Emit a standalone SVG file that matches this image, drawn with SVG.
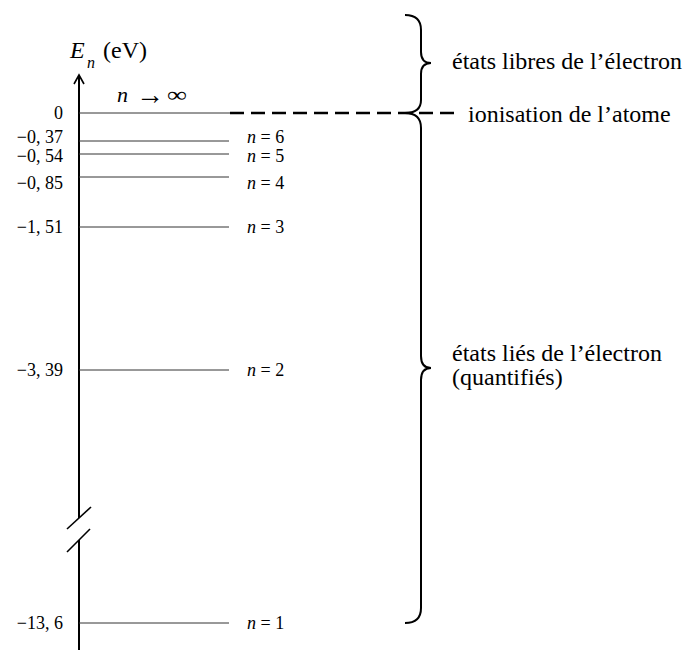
<svg xmlns="http://www.w3.org/2000/svg" width="683" height="650" viewBox="0 0 683 650" font-family="'Liberation Serif', 'Times New Roman', 'DejaVu Serif', serif">
<style>
text{font-family:'Liberation Serif','Times New Roman','DejaVu Serif',serif;fill:#000}
.v{font-size:18px;text-anchor:end}
.n{font-size:18px}
.i{font-style:italic}
.lvl{stroke:#333;stroke-width:1}
.lbl{font-size:24px}
</style>
<rect width="683" height="650" fill="#fff"/>
<g id="axis" fill="none" stroke="#000" stroke-width="2">
<path d="M79,518 V76"/>
<path d="M74,84 L79,75 L84,84" stroke-width="1.6"/>
<path d="M79,540 V650"/>
<path d="M67,529 L91,507" stroke-width="1.6"/>
<path d="M67,552 L90,529" stroke-width="1.6"/>
</g>
<g id="axis-label">
<text x="70" y="58" font-size="24" class="i">E</text>
<text x="87" y="68" font-size="16" class="i">n</text>
<text x="103" y="58" font-size="24">(eV)</text>
</g>
<g id="levels">
<g id="level-inf"><line class="lvl" x1="79" y1="113" x2="230" y2="113"/><text class="v" x="63" y="119">0</text>
<text x="117" y="102" font-size="22" class="i">n</text>
<text x="136" y="104" font-size="28" textLength="28" lengthAdjust="spacingAndGlyphs">→</text>
<text x="167" y="102" font-size="22" textLength="20" lengthAdjust="spacingAndGlyphs">∞</text></g>
<g id="level-6"><line class="lvl" x1="79" y1="141" x2="229" y2="141"/><text class="v" x="63" y="143">−0, 37</text><text class="n" x="247" y="143"><tspan class="i">n</tspan> = 6</text></g>
<g id="level-5"><line class="lvl" x1="79" y1="154" x2="229" y2="154"/><text class="v" x="63" y="162">−0, 54</text><text class="n" x="247" y="162"><tspan class="i">n</tspan> = 5</text></g>
<g id="level-4"><line class="lvl" x1="79" y1="177" x2="229" y2="177"/><text class="v" x="63" y="189">−0, 85</text><text class="n" x="247" y="189"><tspan class="i">n</tspan> = 4</text></g>
<g id="level-3"><line class="lvl" x1="79" y1="227" x2="229" y2="227"/><text class="v" x="63" y="233">−1, 51</text><text class="n" x="247" y="233"><tspan class="i">n</tspan> = 3</text></g>
<g id="level-2"><line class="lvl" x1="79" y1="370" x2="229" y2="370"/><text class="v" x="63" y="376">−3, 39</text><text class="n" x="247" y="376"><tspan class="i">n</tspan> = 2</text></g>
<g id="level-1"><line class="lvl" x1="79" y1="623" x2="229" y2="623"/><text class="v" x="63" y="629">−13, 6</text><text class="n" x="247" y="629"><tspan class="i">n</tspan> = 1</text></g>
</g>
<g id="connectors" fill="none" stroke="#000">
<line x1="230" y1="113" x2="454" y2="113" stroke-width="2.4" stroke-dasharray="14 7"/>
<path id="brace-top" d="M405,15 Q421,15 421,30 V52 Q421,63 431,63 Q421,63 421,74 V100 Q421,113 405,113" stroke-width="2"/>
<path id="brace-bottom" d="M405,113 Q421,113 421,128 V356 Q421,368 431,368 Q421,368 421,380 V608 Q421,623 405,623" stroke-width="2"/>
</g>
<g id="labels">
<text class="lbl" x="452" y="69">états libres de l’électron</text>
<text class="lbl" x="468" y="122">ionisation de l’atome</text>
<text class="lbl" x="452" y="361">états liés de l’électron</text>
<text class="lbl" x="452" y="385">(quantifiés)</text>
</g>
</svg>
